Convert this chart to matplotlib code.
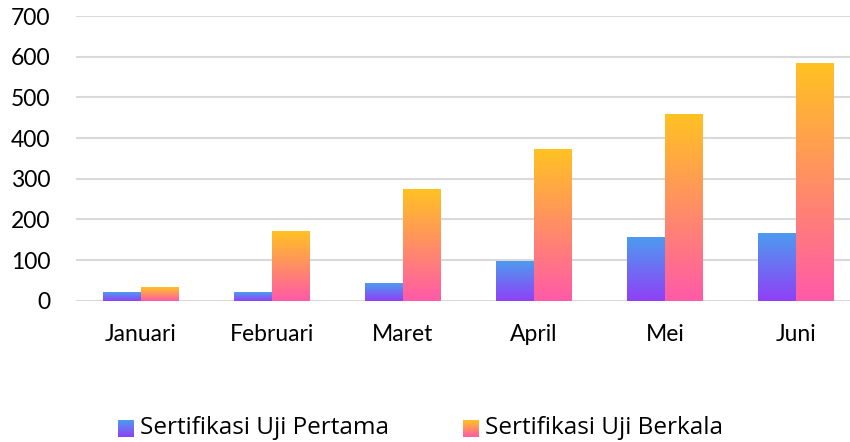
import numpy as np
import matplotlib.pyplot as plt
from matplotlib.colors import LinearSegmentedColormap

months = ['Januari', 'Februari', 'Maret', 'April', 'Mei', 'Juni']
pertama = [22, 22, 42, 96, 155, 167]
berkala = [32, 172, 273, 372, 458, 584]
series_names = ['Sertifikasi Uji Pertama', 'Sertifikasi Uji Berkala']

blue_cmap = LinearSegmentedColormap.from_list('b', ['#9040F6', '#4D9BF0'])
orange_cmap = LinearSegmentedColormap.from_list('o', ['#FF5AA8', '#FFC222'])

plt.rcParams['font.family'] = ['Lato', 'DejaVu Sans']

fig = plt.figure(figsize=(8.5, 4.42), dpi=100)
ax = fig.add_axes([75.5 / 850, (442 - 300.7) / 442, (850 - 75.5) / 850, (300.7 - 16) / 442])

grad = np.linspace(0, 1, 256).reshape(-1, 1)
w = 0.29
x = np.arange(len(months))


def grad_bars(xs, vals, cmap):
    bars = ax.bar(xs, vals, w, color='none', edgecolor='none', zorder=3)
    for b in bars:
        x0, y0 = b.get_x(), b.get_y()
        ax.imshow(grad, cmap=cmap, origin='lower', aspect='auto', zorder=3,
                  extent=[x0, x0 + b.get_width(), y0, y0 + b.get_height()])
    return bars


grad_bars(x - w / 2, pertama, blue_cmap)
grad_bars(x + w / 2, berkala, orange_cmap)

ax.set_xlim(-0.5, (850 - 141) / 131)
ax.set_ylim(0, 700)
ax.set_yticks(range(0, 701, 100))
ax.set_xticks(x)
ax.set_xticklabels(months)
ax.grid(axis='y', color='#D9D9D9', linewidth=1.5, zorder=0)
ax.set_axisbelow(True)
for s in ax.spines.values():
    s.set_visible(False)
ax.tick_params(axis='both', length=0, labelsize=16.5, colors='#000000')
ax.tick_params(axis='y', pad=18)
ax.tick_params(axis='x', pad=17)

# legend with gradient squares
leg_x = [118, 463]
for lx, cmap, name in zip(leg_x, [blue_cmap, orange_cmap], series_names):
    sq = fig.add_axes([lx / 850, (442 - 437) / 442, 16 / 850, 17 / 442])
    sq.imshow(grad, cmap=cmap, origin='lower', aspect='auto')
    sq.axis('off')
    fig.text((lx + 22) / 850, (442 - 428) / 442, name, fontsize=17.5,
             family=['Open Sans', 'DejaVu Sans'], va='center', ha='left')

fig.savefig('out.png', dpi=100)
